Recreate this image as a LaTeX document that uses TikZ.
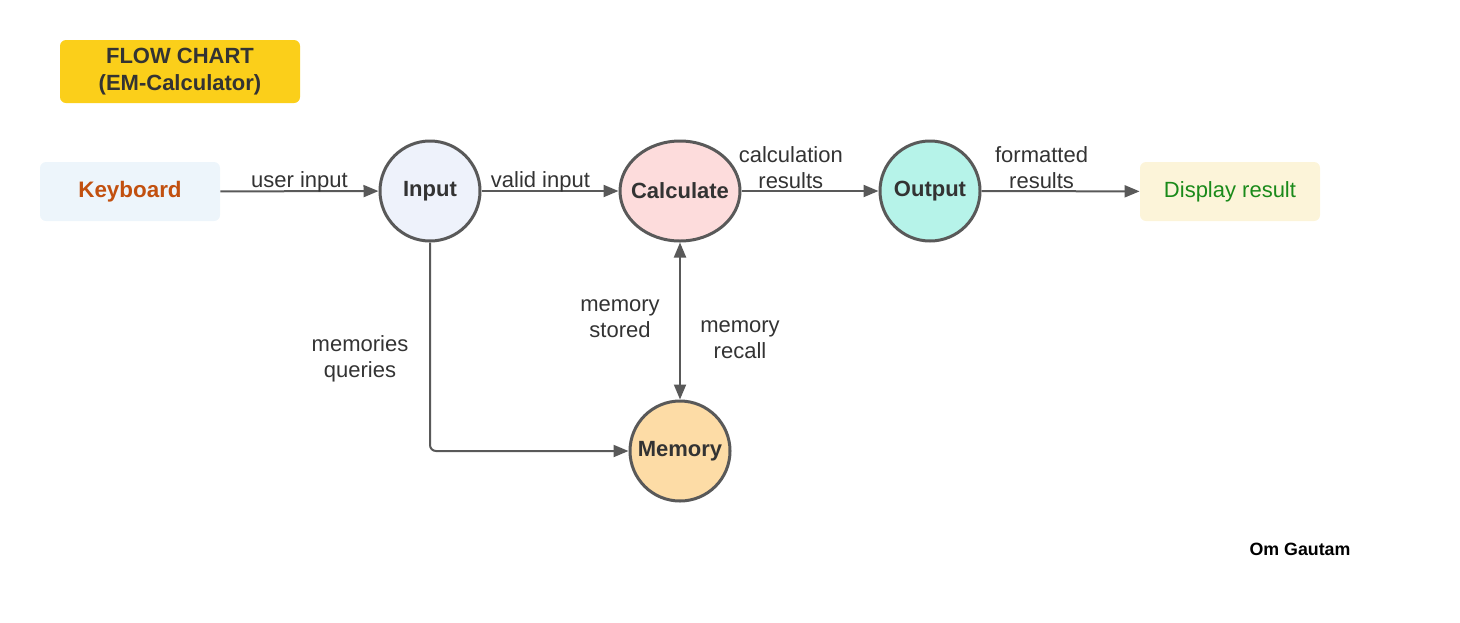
\documentclass[tikz,border=0pt]{standalone}
\usepackage{fontspec}
\setmainfont{Liberation Sans}
\usepackage{tikz}
\usetikzlibrary{arrows.meta,shapes.geometric}

\definecolor{linegray}{HTML}{595959}
\definecolor{textgray}{HTML}{333333}
\definecolor{titleyellow}{HTML}{FBCF1A}
\definecolor{kbblue}{HTML}{EDF5FB}
\definecolor{kborange}{HTML}{C2500F}
\definecolor{inlav}{HTML}{EEF2FB}
\definecolor{calcpink}{HTML}{FDDCDC}
\definecolor{outteal}{HTML}{B6F3E9}
\definecolor{memorange}{HTML}{FDDCA6}
\definecolor{dispcream}{HTML}{FCF4D9}
\definecolor{dispgreen}{HTML}{1A8A1A}

\begin{document}
\begin{tikzpicture}[x=0.5pt, y=-0.5pt,
    proc/.style={circle, draw=linegray, line width=1.5pt, minimum size=50pt, inner sep=0pt,
        text=textgray, font=\fontsize{11}{13}\selectfont\bfseries},
    ext/.style={rounded corners=3pt, minimum width=90pt, minimum height=29.5pt, inner sep=0pt,
        font=\fontsize{11}{13}\selectfont},
    flow/.style={draw=linegray, line width=1pt, -{Triangle[length=7.5pt,width=6pt]}},
    lbl/.style={text=textgray, align=center, font=\fontsize{11}{13}\selectfont},
    over/.style={lbl, above, inner sep=0.5pt}]
    % 1. Page frame
    \useasboundingbox (0,0) rectangle (1460,622);

    % 2. Title and author
    \node[fill=titleyellow, rounded corners=3pt, minimum width=120pt, minimum height=31.5pt,
        inner sep=0pt, align=center, text=textgray, font=\fontsize{11}{13.5}\selectfont\bfseries]
        (title) at (180,71.5) {FLOW CHART\\(EM-Calculator)};
    \node[font=\fontsize{8.9}{10}\selectfont\bfseries] (author) at (1300,549) {Om Gautam};

    % 3. Processes and end points
    \node[ext, fill=kbblue, text=kborange, font=\fontsize{11.2}{13}\selectfont\bfseries]
        (kbd) at (130,191.5) {Keyboard};
    \node[proc, fill=inlav] (inp) at (430,191) {Input};
    \node[proc, ellipse, fill=calcpink, minimum width=60pt] (calc) at (680,191) {\makebox[0pt]{Calculate}};
    \node[proc, fill=outteal] (out) at (930,191) {Output};
    \node[ext, fill=dispcream, text=dispgreen] (disp) at (1230,191.5) {Display result};
    \node[proc, fill=memorange] (mem) at (680,451) {Memory};

    % 4. Connectors with their labels
    \draw[flow] (kbd) -- node[over, yshift=-1.5pt] {user input} (inp);
    \draw[flow] (inp) -- node[over, yshift=-1.5pt, pos=0.43] {valid input} (calc);
    \draw[flow] (calc) -- node[over, pos=0.36] {calculation\\results} (out);
    \draw[flow] (out) -- node[over, pos=0.38] {formatted\\results} (disp);
    \draw[flow, rounded corners=3pt] (inp.south) |- (mem.west);
    \draw[flow, {Triangle[length=7.5pt,width=6pt]}-{Triangle[length=7.5pt,width=6pt]}] (calc) -- (mem);

    % 5. Side labels
    \node[lbl] (queries) at (360,359) {memories\\queries};
    \node[lbl] (stored) at (620,319) {memory\\stored};
    \node[lbl] (recall) at (740,340) {memory\\recall};
\end{tikzpicture}
\end{document}
